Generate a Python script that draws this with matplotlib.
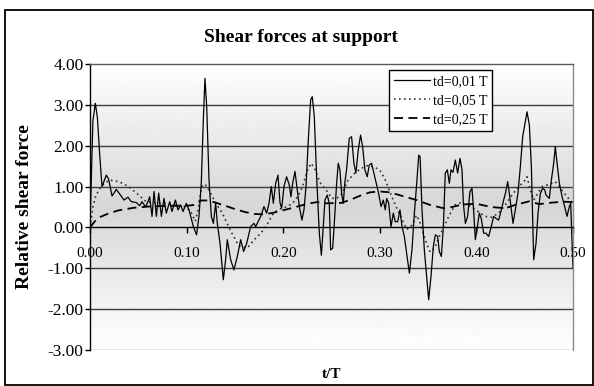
import numpy as np
import matplotlib
matplotlib.use('Agg')
import matplotlib.pyplot as plt
from matplotlib.patches import Rectangle
from matplotlib.ticker import FormatStrFormatter

plt.rcParams['font.family'] = ['Liberation Serif', 'DejaVu Serif']

# td = 0,01 T  (solid)
t_001 = [0.000, 0.003, 0.0055, 0.0076, 0.010, 0.0124, 0.0169, 0.0193, 0.0228, 0.0272,
         0.0307, 0.0352, 0.0393, 0.0428, 0.048, 0.0514, 0.0538, 0.0573, 0.0595, 0.0618,
         0.0642, 0.0663, 0.0687, 0.0711, 0.0739, 0.0766, 0.079, 0.0825, 0.0849, 0.0884,
         0.0911, 0.0939, 0.0963, 0.0997, 0.1025, 0.107, 0.1103, 0.1128, 0.1152, 0.1173,
         0.119, 0.1208, 0.1232, 0.1256, 0.1277, 0.1301, 0.1318, 0.1346, 0.138, 0.1404,
         0.1421, 0.1456, 0.149, 0.1525, 0.156, 0.159, 0.1622, 0.1663, 0.1697, 0.1715,
         0.1767, 0.1801, 0.1829, 0.1853, 0.1877, 0.1898, 0.1922, 0.1946, 0.1967, 0.1984,
         0.2008, 0.2035, 0.2063, 0.208, 0.2098, 0.2122, 0.2146, 0.2167, 0.2194, 0.2215,
         0.2236, 0.226, 0.2284, 0.2301, 0.2322, 0.2346, 0.2374, 0.2395, 0.2415, 0.2432,
         0.2456, 0.2477, 0.2491, 0.2512, 0.2529, 0.2553, 0.257, 0.2587, 0.2605, 0.2622,
         0.2639, 0.2656, 0.2684, 0.2708, 0.2732, 0.2753, 0.2777, 0.2801, 0.2822, 0.2846,
         0.287, 0.2891, 0.2915, 0.2939, 0.2967, 0.2988, 0.3013, 0.3036, 0.3057, 0.3071,
         0.3092, 0.3116, 0.314, 0.316, 0.3185, 0.3209, 0.323, 0.3254, 0.3278, 0.3306,
         0.3333, 0.3358, 0.3382, 0.3403, 0.3417, 0.3437, 0.3461, 0.3479, 0.3506, 0.353,
         0.3554, 0.3575, 0.3599, 0.3616, 0.3637, 0.3658, 0.3678, 0.3699, 0.372, 0.3737,
         0.3758, 0.3782, 0.3806, 0.383, 0.3851, 0.3865, 0.3886, 0.3909, 0.3933, 0.3954,
         0.3971, 0.3989, 0.4006, 0.403, 0.405, 0.4075, 0.4099, 0.4127, 0.4154, 0.4178,
         0.4203, 0.423, 0.4258, 0.4282, 0.430, 0.4324, 0.4341, 0.4362, 0.4379, 0.4403,
         0.443, 0.4455, 0.4479, 0.450, 0.4524, 0.4548, 0.4569, 0.4593, 0.4617, 0.4638,
         0.4662, 0.4686, 0.4707, 0.4721, 0.4755, 0.4776, 0.480, 0.4817, 0.4835, 0.4859,
         0.4887, 0.4914, 0.4938, 0.4962, 0.4976, 0.500]
v_001 = [0.05, 2.60, 3.04, 2.70, 1.80, 1.00, 1.28, 1.18, 0.77, 0.93,
         0.82, 0.67, 0.74, 0.63, 0.61, 0.53, 0.63, 0.51, 0.60, 0.75,
         0.27, 0.88, 0.27, 0.84, 0.27, 0.71, 0.35, 0.63, 0.39, 0.67,
         0.43, 0.55, 0.39, 0.59, 0.43, 0.02, -0.18, 0.27, 1.08, 2.63,
         3.65, 2.96, 1.16, 0.27, 0.10, 0.59, 0.10, -0.39, -1.28, -0.79,
         -0.30, -0.79, -1.04, -0.71, -0.30, -0.59, -0.39, 0.02, 0.10, 0.02,
         0.27, 0.51, 0.35, 0.59, 1.00, 0.59, 1.08, 1.28, 0.60, 0.47,
         1.00, 1.24, 1.04, 0.75, 1.08, 1.37, 0.92, 0.51, 0.18, 0.43,
         1.00, 2.14, 3.12, 3.20, 2.71, 1.24, -0.14, -0.68, 0.02, 0.67,
         0.79, 0.59, -0.55, -0.51, 0.10, 1.08, 1.57, 1.41, 0.83, 0.59,
         1.12, 1.41, 2.18, 2.22, 1.57, 1.33, 1.90, 2.26, 1.98, 1.41,
         1.24, 1.53, 1.57, 1.33, 1.04, 0.83, 0.51, 0.67, 0.43, 0.71,
         0.59, 0.02, 0.35, 0.14, 0.14, 0.43, 0.02, -0.22, -0.63, -1.12,
         -0.55, 0.35, 1.08, 1.77, 1.73, 0.43, -0.55, -1.04, -1.77, -1.20,
         -0.47, -0.18, -0.22, -0.59, -0.71, 0.02, 1.33, 1.41, 1.08, 1.41,
         1.35, 1.65, 1.33, 1.69, 1.41, 0.59, 0.10, 0.27, 0.87, 0.96,
         0.43, -0.30, -0.06, 0.35, 0.22, -0.14, -0.14, -0.22, 0.02, 0.27,
         0.22, 0.18, 0.43, 0.67, 0.83, 1.12, 0.83, 0.43, 0.10, 0.43,
         0.83, 1.49, 2.22, 2.51, 2.83, 2.51, 1.49, -0.79, -0.39, 0.35,
         0.83, 0.96, 0.92, 0.79, 0.71, 1.16, 1.57, 1.98, 1.57, 1.08,
         0.75, 0.51, 0.27, 0.51, 0.59, -1.00]

# td = 0,05 T  (dotted)
t_005 = [0.000, 0.003, 0.006, 0.012, 0.020, 0.030, 0.040, 0.050, 0.058, 0.070,
         0.080, 0.090, 0.100, 0.105, 0.109, 0.112, 0.1156, 0.119, 0.124, 0.130,
         0.137, 0.145, 0.154, 0.163, 0.170, 0.177, 0.184, 0.190, 0.196, 0.200,
         0.205, 0.210, 0.215, 0.220, 0.225, 0.229, 0.233, 0.238, 0.245, 0.250,
         0.255, 0.260, 0.267, 0.274, 0.281, 0.288, 0.295, 0.300, 0.305, 0.310,
         0.316, 0.322, 0.328, 0.333, 0.338, 0.342, 0.347, 0.352, 0.357, 0.362,
         0.367, 0.372, 0.378, 0.383, 0.390, 0.395, 0.409, 0.416, 0.423, 0.430,
         0.437, 0.444, 0.4506, 0.4524, 0.456, 0.4593, 0.464, 0.468, 0.475, 0.4817,
         0.4869, 0.4938, 0.500]
v_005 = [0.00, 0.50, 0.78, 1.02, 1.16, 1.12, 1.00, 0.80, 0.63, 0.60,
         0.58, 0.55, 0.50, 0.35, 0.15, 0.45, 1.00, 1.06, 0.88, 0.60,
         0.35, -0.06, -0.45, -0.50, -0.30, -0.14, 0.10, 0.35, 0.45, 0.47,
         0.52, 0.60, 0.75, 1.00, 1.40, 1.57, 1.42, 1.10, 0.90, 0.72,
         0.70, 0.80, 1.15, 1.33, 1.45, 1.52, 1.47, 1.40, 1.20, 0.90,
         0.55, 0.25, -0.05, 0.05, 0.30, 0.10, -0.30, -0.60, -0.50, -0.20,
         0.05, 0.30, 0.55, 0.60, 0.55, 0.50, 0.27, 0.25, 0.35, 0.55,
         0.80, 1.00, 1.16, 1.24, 0.90, 0.67, 0.85, 1.00, 1.05, 1.12,
         0.96, 0.75, 0.59]

# td = 0,25 T  (dashed)
t_025 = [0.000, 0.005, 0.010, 0.020, 0.030, 0.045, 0.060, 0.080, 0.100, 0.108,
         0.115, 0.122, 0.131, 0.140, 0.150, 0.160, 0.170, 0.180, 0.190, 0.200,
         0.210, 0.225, 0.235, 0.245, 0.260, 0.270, 0.280, 0.290, 0.300, 0.310,
         0.322, 0.338, 0.352, 0.366, 0.375, 0.385, 0.400, 0.415, 0.430, 0.440,
         0.455, 0.465, 0.475, 0.490, 0.500]
v_025 = [0.00, 0.15, 0.25, 0.35, 0.42, 0.48, 0.51, 0.53, 0.53, 0.55,
         0.66, 0.66, 0.60, 0.53, 0.45, 0.38, 0.33, 0.32, 0.36, 0.42,
         0.48, 0.58, 0.62, 0.59, 0.60, 0.68, 0.78, 0.86, 0.88, 0.86,
         0.78, 0.67, 0.55, 0.47, 0.50, 0.56, 0.58, 0.50, 0.47, 0.55,
         0.64, 0.57, 0.60, 0.63, 0.62]

x_ticks = [0.0, 0.1, 0.2, 0.3, 0.4, 0.5]
y_ticks = [-3, -2, -1, 0, 1, 2, 3, 4]

fig = plt.figure(figsize=(5.94, 3.86), dpi=100)
ax = fig.add_axes([90/594, 1-350/386, 483/594, 286/386])

# grey band darkest around the middle of the plot area
yy = np.linspace(4, -3, 300)
shade = 1 - 0.16 * (1 - np.abs(yy - 0.5) / 3.5)
ax.imshow(shade[:, None], extent=[0, 0.5, -3, 4], aspect='auto',
          cmap='gray', vmin=0, vmax=1, zorder=0)

for y in [-2, -1, 1, 2, 3]:
    ax.axhline(y, color='#3c3c3c', lw=1, zorder=1)
ax.axhline(-3, color='#8c8c8c', lw=1, zorder=1)

ax.plot(t_001, v_001, color='black', lw=0.9, label='td=0,01 T', zorder=4)
ax.plot(t_005, v_005, color='#303030', lw=1.2, ls=(0, (1, 2)), label='td=0,05 T', zorder=3)
ax.plot(t_025, v_025, color='black', lw=1.3, ls=(0, (5, 3)), label='td=0,25 T', zorder=3)

ax.set_xlim(0, 0.5)
ax.set_ylim(-3, 4)
ax.set_xticks(x_ticks)
ax.set_yticks(y_ticks)
ax.xaxis.set_major_formatter(FormatStrFormatter('%.2f'))
ax.yaxis.set_major_formatter(FormatStrFormatter('%.2f'))

ax.spines['bottom'].set_position(('data', 0))
ax.spines['bottom'].set_color('black')
ax.spines['left'].set_color('black')
ax.spines['top'].set_color('#5a5a5a')
ax.spines['right'].set_color('#8c8c8c')
for s in ax.spines.values():
    s.set_linewidth(1)
    s.set_zorder(5)

ax.tick_params(axis='x', direction='out', length=4, width=1, pad=10, labelsize=11)
ax.tick_params(axis='y', direction='out', length=3.5, width=1, pad=1, labelsize=12.5)

leg = ax.legend(loc='upper right', bbox_to_anchor=(492/594, 1-70/386),
                bbox_transform=fig.transFigure, borderaxespad=0, fancybox=False,
                framealpha=1, edgecolor='black', fontsize=10, handlelength=2.6,
                handletextpad=0.2, labelspacing=0.45, borderpad=0.35)
leg.get_frame().set_linewidth(1)
leg.set_zorder(10)

fig.text(301/594, 1-37/386, 'Shear forces at support', ha='center', va='center',
         fontsize=14, fontweight='bold')
fig.text(25/594, 1-207/386, 'Relative shear force', ha='center', va='center',
         rotation=90, fontsize=14, fontweight='bold')
fig.text(332/594, 1-375/386, 't/T', ha='center', va='center',
         fontsize=11, fontweight='bold')

fig.patches.append(Rectangle((5/594, 1/386), 588/594, 375/386, transform=fig.transFigure,
                             fill=False, ec='black', lw=1.3))

fig.savefig('out.png', dpi=100)
